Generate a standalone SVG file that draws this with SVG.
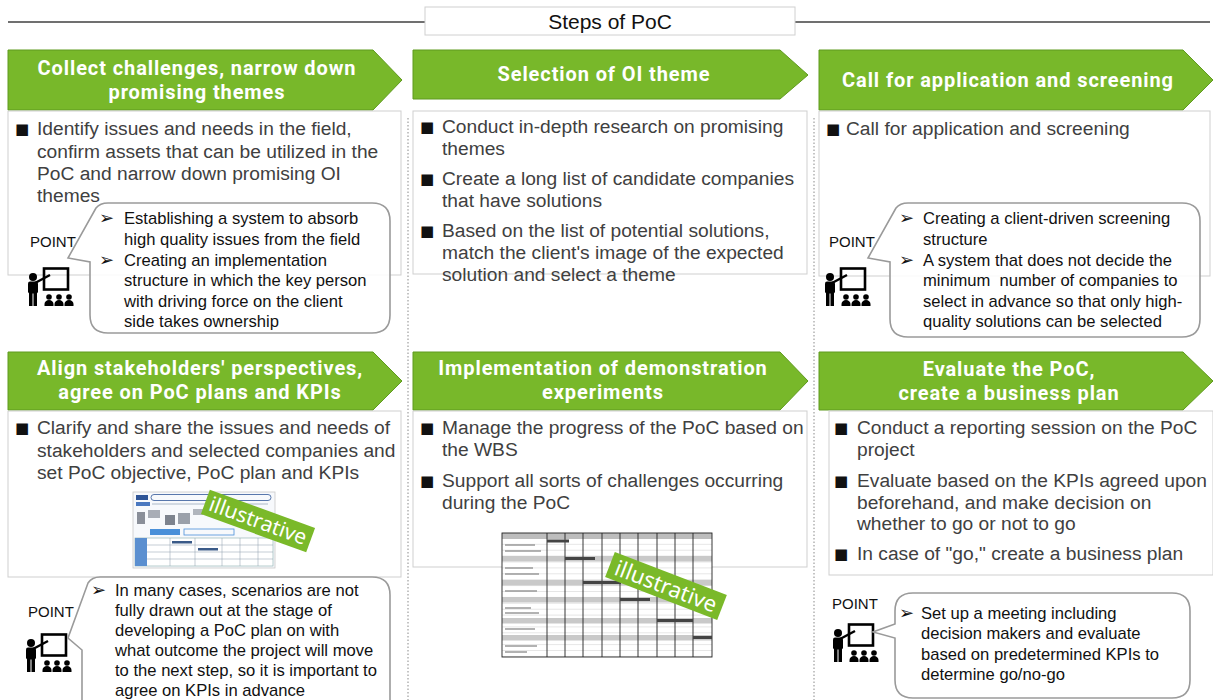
<svg xmlns="http://www.w3.org/2000/svg" width="1213" height="700" viewBox="0 0 1213 700">
<defs>
<style>
.hdr{fill:#78b82a;stroke:#5f9a1e;stroke-width:1}
.htxt{font-family:Roboto,"Liberation Sans",sans-serif;font-weight:bold;font-size:20px;letter-spacing:0.9px;fill:#fff;text-anchor:middle}
.box{fill:#fff;stroke:#cfcfcf;stroke-width:1}
.body{font-family:"Liberation Sans",Arial,sans-serif;font-size:19.2px;fill:#404040}
.bul{font-family:"DejaVu Sans",sans-serif;font-size:15px;fill:#111}
.bubble{fill:#fff;fill-opacity:.88;stroke:#9a9a9a;stroke-width:1.6}
.ctxt{font-family:"Liberation Sans",Arial,sans-serif;font-size:16.6px;fill:#111}
.arr{font-family:"DejaVu Sans",sans-serif;font-weight:bold;font-size:18px;fill:#111}
.point{font-family:"Liberation Sans",Arial,sans-serif;font-size:15px;fill:#111}
.div{stroke:#8a8a8a;stroke-width:1;stroke-dasharray:1.5 2;fill:none}
.ill{fill:#7ab929}
.illt{font-family:"Noto Sans",sans-serif;font-size:21px;fill:#fff;text-anchor:middle}
.grid{stroke:#222;stroke-width:0.9;fill:none}
</style>
<!-- presenter at a board with three listeners -->
<g id="teacher">
<rect x="19" y="1.5" width="24" height="21" fill="none" stroke="#000" stroke-width="2.6"/>
<circle cx="8" cy="10" r="4"/>
<path d="M10 16 L25 8" stroke="#000" stroke-width="2.4"/>
<rect x="3" y="14.5" width="10" height="12" rx="2"/>
<rect x="4" y="25" width="3.5" height="14"/>
<rect x="8.5" y="25" width="3.5" height="14"/>
<circle cx="24" cy="30" r="2.8"/>
<circle cx="34" cy="30" r="2.8"/>
<circle cx="44" cy="30" r="2.8"/>
<path d="M19.5 39 v-2 a4.5 4 0 0 1 9 0 v2 Z M29.5 39 v-2 a4.5 4 0 0 1 9 0 v2 Z M39.5 39 v-2 a4.5 4 0 0 1 9 0 v2 Z"/>
</g>
<pattern id="rows" x="0" y="533" width="10" height="5.9" patternUnits="userSpaceOnUse">
<line x1="0" y1="5.9" x2="10" y2="5.9" stroke="#9a9a9a" stroke-width="0.5"/>
</pattern>
</defs>

<!-- title -->
<g id="title">
<line x1="8" y1="22" x2="1210" y2="22" stroke="#404040" stroke-width="1.5"/>
<rect x="425" y="7" width="370" height="28" fill="#fff" stroke="#d0d0d0" stroke-width="1"/>
<text x="610" y="29" style="font-family:'Liberation Sans',Arial,sans-serif;font-size:21px;fill:#111;text-anchor:middle">Steps of PoC</text>
</g>

<!-- column separators -->
<g id="connectors">
<line class="div" x1="408" y1="118" x2="408" y2="700"/>
<line class="div" x1="814" y1="118" x2="814" y2="700"/>
</g>

<!-- step 1 -->
<g id="step1">
<polygon class="hdr" points="8,50 373,50 402,80 373,110 8,110"/>
<text class="htxt" x="197" y="75">Collect challenges, narrow down</text>
<text class="htxt" x="197" y="99">promising themes</text>
<rect class="box" x="8" y="111" width="393" height="164"/>
<text class="bul" x="15" y="134">■</text>
<text class="body" x="37" y="135">Identify issues and needs in the field,</text>
<text class="body" x="37" y="157.5">confirm assets that can be utilized in the</text>
<text class="body" x="37" y="180">PoC and narrow down promising OI</text>
<text class="body" x="37" y="202">themes</text>
<text class="point" x="30" y="247">POINT</text>
<use href="#teacher" x="25" y="267"/>
<path class="bubble" d="M108 203 H372 Q390 203 390 221 V315 Q390 333 372 333 H108 Q90 333 90 315 V262 L68 258 L96 208 Q100 203 108 203 Z"/>
<text class="arr" x="99" y="224">➢</text>
<text class="ctxt" x="124" y="224">Establishing a system to absorb</text>
<text class="ctxt" x="124" y="245">high quality issues from the field</text>
<text class="arr" x="99" y="265.5">➢</text>
<text class="ctxt" x="124" y="265.5">Creating an implementation</text>
<text class="ctxt" x="124" y="286">structure in which the key person</text>
<text class="ctxt" x="124" y="306.5">with driving force on the client</text>
<text class="ctxt" x="124" y="327">side takes ownership</text>
</g>

<!-- step 2 -->
<g id="step2">
<polygon class="hdr" points="413,50 780,50 808,75 780,99 413,99"/>
<text class="htxt" x="604" y="81">Selection of OI theme</text>
<rect class="box" x="413" y="111" width="394" height="163"/>
<text class="bul" x="420" y="132">■</text>
<text class="body" x="442" y="133">Conduct in-depth research on promising</text>
<text class="body" x="442" y="155">themes</text>
<text class="bul" x="420" y="184">■</text>
<text class="body" x="442" y="185">Create a long list of candidate companies</text>
<text class="body" x="442" y="207">that have solutions</text>
<text class="bul" x="420" y="236">■</text>
<text class="body" x="442" y="237">Based on the list of potential solutions,</text>
<text class="body" x="442" y="259">match the client's image of the expected</text>
<text class="body" x="442" y="281">solution and select a theme</text>
</g>

<!-- step 3 -->
<g id="step3">
<polygon class="hdr" points="819,50 1183,50 1213,80 1183,110 819,110"/>
<text class="htxt" x="1008" y="87">Call for application and screening</text>
<rect class="box" x="819" y="111" width="391" height="165"/>
<text class="bul" x="826" y="134">■</text>
<text class="body" x="846" y="135">Call for application and screening</text>
<text class="point" x="829" y="247">POINT</text>
<use href="#teacher" x="822" y="267"/>
<path class="bubble" d="M908 203 H1182 Q1200 203 1200 221 V319 Q1200 337 1182 337 H908 Q890 337 890 319 V262 L868 258 L896 208 Q900 203 908 203 Z"/>
<text class="arr" x="899" y="224">➢</text>
<text class="ctxt" x="923" y="224">Creating a client-driven screening</text>
<text class="ctxt" x="923" y="245">structure</text>
<text class="arr" x="899" y="265.5">➢</text>
<text class="ctxt" x="923" y="265.5">A system that does not decide the</text>
<text class="ctxt" x="923" y="286">minimum&#160; number of companies to</text>
<text class="ctxt" x="923" y="306.5">select in advance so that only high-</text>
<text class="ctxt" x="923" y="327">quality solutions can be selected</text>
</g>

<!-- step 4 -->
<g id="step4">
<polygon class="hdr" points="8,352 373,352 402,381 373,410 8,410"/>
<text class="htxt" x="200" y="375">Align stakeholders' perspectives,</text>
<text class="htxt" x="200" y="399">agree on PoC plans and KPIs</text>
<rect class="box" x="8" y="411" width="393" height="166"/>
<text class="bul" x="15" y="433">■</text>
<text class="body" x="37" y="434">Clarify and share the issues and needs of</text>
<text class="body" x="37" y="456.5">stakeholders and selected companies and</text>
<text class="body" x="37" y="479">set PoC objective, PoC plan and KPIs</text>
<!-- sample plan sheet -->
<g id="planSheet">
<rect x="133" y="492" width="142" height="76" fill="#f7f9fc" stroke="#c8c8c8" stroke-width="0.8"/>
<rect x="136" y="495" width="12" height="5" fill="#2f5597"/>
<rect x="151" y="494.5" width="120" height="6" rx="3" fill="none" stroke="#2f5597" stroke-width="0.8"/>
<rect x="136" y="502" width="14" height="4" fill="#4a78c0"/>
<line x1="152" y1="504" x2="268" y2="504" stroke="#9ab" stroke-width="0.8"/>
<rect x="137" y="512" width="8" height="12" fill="#8a8f99"/>
<rect x="148" y="510" width="12" height="8" fill="#a8adb6"/>
<rect x="165" y="515" width="10" height="10" fill="#7d838e"/>
<rect x="178" y="513" width="12" height="11" fill="#9aa0aa"/>
<rect x="193" y="509" width="10" height="6" fill="#b0b5bd"/>
<rect x="150" y="529" width="30" height="6" fill="#4a90d9"/>
<rect x="184" y="529" width="50" height="6" fill="none" stroke="#4a90d9" stroke-width="0.8"/>
<rect x="135" y="538" width="138" height="28" fill="#fff" stroke="#8aa" stroke-width="0.6"/>
<rect x="135" y="538" width="12" height="28" fill="#5b8fd0"/>
<path d="M147 545 H273 M147 552 H273 M147 559 H273 M170 538 V566 M195 538 V566 M222 538 V566 M240 538 V566 M258 538 V566" stroke="#8a9aa8" stroke-width="0.5"/>
<rect x="172" y="541" width="20" height="2.5" fill="#3a5a88"/>
<rect x="198" y="548" width="20" height="2.5" fill="#3a5a88"/>
<g transform="translate(258,521) rotate(20)">
<rect class="ill" x="-56" y="-13" width="112" height="26"/>
<text class="illt" x="0" y="7">illustrative</text>
</g>
</g>
<text class="point" x="28" y="617">POINT</text>
<use href="#teacher" x="23" y="633"/>
<path class="bubble" d="M100 577 H372 Q390 577 390 595 V712 H82 V650 L68 638 L88 583 Q92 577 100 577 Z"/>
<text class="arr" x="91" y="596">➢</text>
<text class="ctxt" x="115" y="596">In many cases, scenarios are not</text>
<text class="ctxt" x="115" y="616">fully drawn out at the stage of</text>
<text class="ctxt" x="115" y="636">developing a PoC plan on with</text>
<text class="ctxt" x="115" y="656">what outcome the project will move</text>
<text class="ctxt" x="115" y="676">to the next step, so it is important to</text>
<text class="ctxt" x="115" y="695.5">agree on KPIs in advance</text>
</g>

<!-- step 5 -->
<g id="step5">
<polygon class="hdr" points="413,352 780,352 808,381 780,410 413,410"/>
<text class="htxt" x="603" y="375">Implementation of demonstration</text>
<text class="htxt" x="603" y="399">experiments</text>
<rect class="box" x="413" y="411" width="394" height="156"/>
<text class="bul" x="420" y="433">■</text>
<text class="body" x="442" y="434">Manage the progress of the PoC based on</text>
<text class="body" x="442" y="456">the WBS</text>
<text class="bul" x="420" y="486">■</text>
<text class="body" x="442" y="487">Support all sorts of challenges occurring</text>
<text class="body" x="442" y="509">during the PoC</text>
<!-- sample schedule sheet -->
<g id="wbsSheet">
<rect x="502" y="533" width="210" height="124" fill="#fff"/>
<rect x="502" y="533" width="210" height="124" fill="url(#rows)"/>
<rect x="502" y="533" width="210" height="6" fill="#bdbdbd"/>
<rect x="502" y="556" width="210" height="5.5" fill="#c9c9c9"/>
<rect x="502" y="580" width="210" height="5.5" fill="#c9c9c9"/>
<rect x="502" y="597" width="210" height="5.5" fill="#c9c9c9"/>
<rect x="502" y="618" width="210" height="5.5" fill="#c9c9c9"/>
<rect x="502" y="635" width="210" height="5.5" fill="#c9c9c9"/>
<path class="grid" d="M547 533 V657 M565 533 V657 M583 533 V657 M602 533 V657 M620 533 V657 M638 533 V657 M657 533 V657 M675 533 V657 M693 533 V657"/>
<rect class="grid" x="502" y="533" width="210" height="124" stroke-width="1.2"/>
<rect x="547" y="539.5" width="22" height="3" fill="#444"/>
<rect x="565" y="557" width="30" height="3" fill="#444"/>
<rect x="583" y="581" width="38" height="3" fill="#444"/>
<rect x="620" y="598" width="30" height="3" fill="#444"/>
<rect x="657" y="619" width="36" height="3" fill="#444"/>
<rect x="693" y="636" width="19" height="3" fill="#444"/>
<path d="M505 545 h30 M505 551 h36 M505 568 h28 M505 574 h34 M505 591 h32 M505 608 h26 M505 613 h34 M505 629 h30 M505 646 h32 M505 652 h22" stroke="#999" stroke-width="1.6"/>
<g transform="translate(666,586) rotate(21)">
<rect class="ill" x="-60" y="-13.5" width="120" height="27"/>
<text class="illt" x="0" y="8" style="font-size:22px">illustrative</text>
</g>
</g>
</g>

<!-- step 6 -->
<g id="step6">
<polygon class="hdr" points="819,352 1183,352 1213,381 1183,410 819,410"/>
<text class="htxt" x="1009" y="376">Evaluate the PoC,</text>
<text class="htxt" x="1009" y="400">create a business plan</text>
<rect class="box" x="829" y="411" width="384" height="164"/>
<text class="bul" x="834" y="433">■</text>
<text class="body" x="857" y="434">Conduct a reporting session on the PoC</text>
<text class="body" x="857" y="456">project</text>
<text class="bul" x="834" y="486">■</text>
<text class="body" x="857" y="487">Evaluate based on the KPIs agreed upon</text>
<text class="body" x="857" y="508.5">beforehand, and make decision on</text>
<text class="body" x="857" y="530">whether to go or not to go</text>
<text class="bul" x="834" y="559">■</text>
<text class="body" x="857" y="560">In case of "go," create a business plan</text>
<text class="point" x="832" y="609">POINT</text>
<use href="#teacher" x="830" y="623"/>
<path class="bubble" d="M913 593 H1172 Q1190 593 1190 611 V680 Q1190 698 1172 698 H913 Q895 698 895 680 V638 L873 632 L895 624 V611 Q895 593 913 593 Z"/>
<text class="arr" x="899" y="619">➢</text>
<text class="ctxt" x="921" y="619">Set up a meeting including</text>
<text class="ctxt" x="921" y="639">decision makers and evaluate</text>
<text class="ctxt" x="921" y="659.5">based on predetermined KPIs to</text>
<text class="ctxt" x="921" y="680">determine go/no-go</text>
</g>
</svg>
